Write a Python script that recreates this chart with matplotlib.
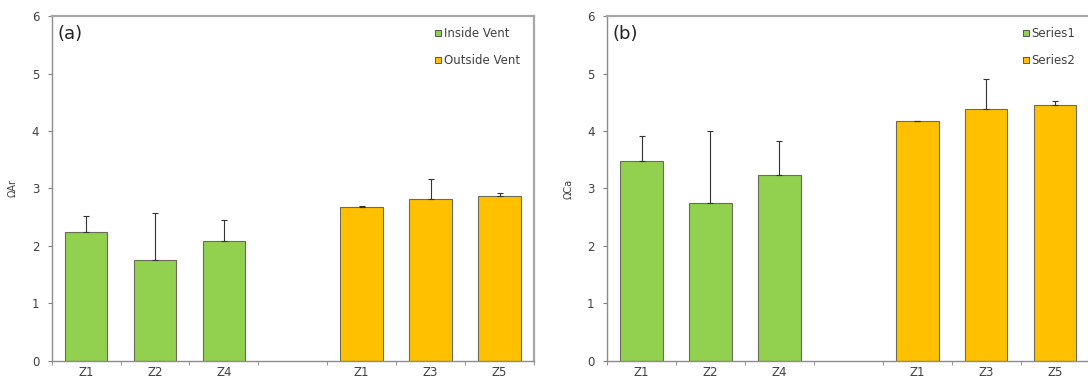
import numpy as np
import matplotlib.pyplot as plt
from matplotlib.lines import Line2D

# 数据
labels = ['Z1', 'Z2', 'Z4', '', 'Z1', 'Z3', 'Z5']
inside_ar = [2.25, 1.76, 2.09]
inside_ar_err = [0.27, 0.82, 0.36]
outside_ar = [2.68, 2.82, 2.87]
outside_ar_err = [0.01, 0.35, 0.05]

inside_ca = [3.48, 2.75, 3.24]
inside_ca_err = [0.43, 1.26, 0.58]
outside_ca = [4.17, 4.38, 4.45]
outside_ca_err = [0.01, 0.53, 0.08]

green = '#92D050'
orange = '#FFC000'
edge = '#6b6b5a'

fig = plt.figure(figsize=(10.88, 3.81), dpi=100)
ax1 = fig.add_axes([0.0475, 0.0533, 0.4433, 0.904])
ax2 = fig.add_axes([0.558, 0.0533, 0.4433, 0.904])


def panel(ax, ins, ins_err, outs, outs_err, tag, ylab, names):
    x_in = np.arange(3)
    x_out = np.arange(4, 7)
    ax.bar(x_in, ins, width=0.62, color=green, edgecolor=edge, linewidth=0.8, zorder=2)
    ax.bar(x_out, outs, width=0.62, color=orange, edgecolor=edge, linewidth=0.8, zorder=2)
    ax.errorbar(x_in, ins, yerr=[np.zeros(3), ins_err], fmt='none', ecolor='#333333',
                elinewidth=0.8, capsize=2.5, capthick=0.8, zorder=3)
    ax.errorbar(x_out, outs, yerr=[np.zeros(3), outs_err], fmt='none', ecolor='#333333',
                elinewidth=0.8, capsize=2.5, capthick=0.8, zorder=3)

    ax.set_xlim(-0.5, 6.5)
    ax.set_ylim(0, 6)
    ax.set_yticks(range(7))
    ax.set_xticks(range(7))
    ax.set_xticklabels(labels)
    ax.set_xticks(np.arange(-0.5, 7, 1), minor=True)
    ax.tick_params(axis='x', which='major', length=0, labelsize=8.5, colors='#404040', pad=4)
    ax.tick_params(axis='x', which='minor', length=3, color='#808080', direction='out')
    ax.tick_params(axis='y', length=3, color='#808080', labelsize=8.5, labelcolor='#404040', pad=6)

    for s in ['left', 'bottom']:
        ax.spines[s].set_color('#8c8c8c')
        ax.spines[s].set_linewidth(1.0)
    for s in ['top', 'right']:
        ax.spines[s].set_color('#a6a6a6')
        ax.spines[s].set_linewidth(1.6)

    ax.text(0.012, 0.975, tag, transform=ax.transAxes, fontsize=13, va='top', ha='left',
            color='#222222')
    ax.set_ylabel(ylab, fontsize=7, color='#404040', labelpad=10)

    handles = [Line2D([], [], marker='s', linestyle='none', markersize=5,
                      markerfacecolor=green, markeredgecolor='#555555', markeredgewidth=0.7),
               Line2D([], [], marker='s', linestyle='none', markersize=5,
                      markerfacecolor=orange, markeredgecolor='#555555', markeredgewidth=0.7)]
    leg = ax.legend(handles, names, loc='upper right', bbox_to_anchor=(0.985, 0.99),
                    frameon=False, fontsize=8.5, handletextpad=0.05, handlelength=0.8,
                    labelspacing=1.2, borderaxespad=0.2)
    for t in leg.get_texts():
        t.set_color('#404040')


panel(ax1, inside_ar, inside_ar_err, outside_ar, outside_ar_err, '(a)', 'ΩAr',
      ['Inside Vent', 'Outside Vent'])
panel(ax2, inside_ca, inside_ca_err, outside_ca, outside_ca_err, '(b)', 'ΩCa',
      ['Series1', 'Series2'])

plt.savefig('out.png', dpi=100)
